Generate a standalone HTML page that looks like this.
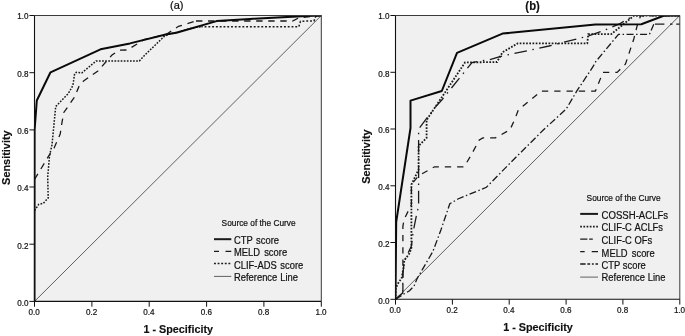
<!DOCTYPE html>
<html><head><meta charset="utf-8"><title>ROC curves</title>
<style>html,body{margin:0;padding:0;background:#fff}svg{display:block;will-change:transform}text{font-family:"Liberation Sans",Arial,sans-serif;fill:#111}.r{stroke:#111;stroke-width:.22px}.b{stroke:#111;stroke-width:.15px}</style></head><body>
<svg width="685" height="336" viewBox="0 0 685 336">
<rect width="685" height="336" fill="#fff"/>
<clipPath id="ca"><rect x="33.60" y="15.1" width="288.20" height="287.5"/></clipPath>
<rect x="34.5" y="15.5" width="286.8" height="285.9" fill="#f0f0f0"/>
<line x1="34.5" y1="301.4" x2="321.3" y2="15.5" stroke="#606060" stroke-width="1"/>
<g clip-path="url(#ca)">
<path d="M34.5,210.5 L38.8,204.3 L43.2,203.4 L48.2,198.0 L47.7,177.0 L49.5,155.7 L52.0,145.0 L55.7,106.5 L68.4,93.4 L72.9,85.4 L74.6,73.8 L76.4,72.3 L81.8,72.9 L96.0,61.1 L139.3,61.1 L145.4,54.5 L164.2,36.4 L168.0,34.5 L189.6,28.8 L196.0,27.3 L201.4,26.8" fill="none" stroke="#1a1a1a" stroke-width="1.5" stroke-dasharray="1.7 1.4"/>
<path d="M201.4,26.8 L298.8,26.8 L300.5,21.2 L314.0,21.0 L316.0,15.7 L321.3,15.5" fill="none" stroke="#1a1a1a" stroke-width="1.5" stroke-dasharray="1.9 1.88" stroke-dashoffset="0.6"/>
<path d="M34.5,179.5 L52.1,150.4 L54.0,148.2 L60.2,134.0 L62.0,122.3 L63.8,112.5 L74.6,97.0 L79.1,86.2 L83.6,80.9 L97.9,71.0 L112.0,55.0 L119.3,50.2 L127.3,50.0 L144.0,39.7 L166.5,34.2 L178.5,26.3 L196.0,21.0" fill="none" stroke="#1a1a1a" stroke-width="1.3" stroke-dasharray="6.5 5.8"/>
<path d="M196.0,21.0 L292.5,21.0 L298.8,17.9 L321.3,15.5" fill="none" stroke="#1a1a1a" stroke-width="1.3" stroke-dasharray="6.4 5.64"/>
<path d="M34.5,301.4 L34.6,130.0 L36.8,100.5 L50.5,72.3 L100.5,49.3 L130.0,43.4 L165.7,34.5 L176.4,32.7 L216.6,21.1 L250.0,18.9 L306.8,15.9 L321.3,15.5" fill="none" stroke="#0a0a0a" stroke-width="2" stroke-linejoin="round"/>
</g>
<path d="M34.5,15.5 H321.3 V301.4" fill="none" stroke="#3a3a3a" stroke-width="1"/>
<path d="M34.5,15.5 V301.4 H321.3" fill="none" stroke="#111" stroke-width="1.1"/>
<line x1="29.4" y1="301.4" x2="34.5" y2="301.4" stroke="#111" stroke-width="1"/>
<line x1="34.5" y1="301.4" x2="34.5" y2="306.7" stroke="#111" stroke-width="1"/>
<text transform="translate(28.60,305.70) scale(0.88,1)" font-size="9.2" text-anchor="end" class="r">0.0</text>
<text transform="translate(34.20,314.90) scale(0.88,1)" font-size="9.2" text-anchor="middle" class="r">0.0</text>
<line x1="29.4" y1="244.2" x2="34.5" y2="244.2" stroke="#111" stroke-width="1"/>
<line x1="91.9" y1="301.4" x2="91.9" y2="306.7" stroke="#111" stroke-width="1"/>
<text transform="translate(28.60,248.52) scale(0.88,1)" font-size="9.2" text-anchor="end" class="r">0.2</text>
<text transform="translate(91.56,314.90) scale(0.88,1)" font-size="9.2" text-anchor="middle" class="r">0.2</text>
<line x1="29.4" y1="187.0" x2="34.5" y2="187.0" stroke="#111" stroke-width="1"/>
<line x1="149.2" y1="301.4" x2="149.2" y2="306.7" stroke="#111" stroke-width="1"/>
<text transform="translate(28.60,191.34) scale(0.88,1)" font-size="9.2" text-anchor="end" class="r">0.4</text>
<text transform="translate(148.92,314.90) scale(0.88,1)" font-size="9.2" text-anchor="middle" class="r">0.4</text>
<line x1="29.4" y1="129.9" x2="34.5" y2="129.9" stroke="#111" stroke-width="1"/>
<line x1="206.6" y1="301.4" x2="206.6" y2="306.7" stroke="#111" stroke-width="1"/>
<text transform="translate(28.60,134.16) scale(0.88,1)" font-size="9.2" text-anchor="end" class="r">0.6</text>
<text transform="translate(206.28,314.90) scale(0.88,1)" font-size="9.2" text-anchor="middle" class="r">0.6</text>
<line x1="29.4" y1="72.7" x2="34.5" y2="72.7" stroke="#111" stroke-width="1"/>
<line x1="263.9" y1="301.4" x2="263.9" y2="306.7" stroke="#111" stroke-width="1"/>
<text transform="translate(28.60,76.98) scale(0.88,1)" font-size="9.2" text-anchor="end" class="r">0.8</text>
<text transform="translate(263.64,314.90) scale(0.88,1)" font-size="9.2" text-anchor="middle" class="r">0.8</text>
<line x1="29.4" y1="15.5" x2="34.5" y2="15.5" stroke="#111" stroke-width="1"/>
<line x1="321.3" y1="301.4" x2="321.3" y2="306.7" stroke="#111" stroke-width="1"/>
<text transform="translate(28.60,18.90) scale(0.88,1)" font-size="9.2" text-anchor="end" class="r">1.0</text>
<text transform="translate(321.00,314.90) scale(0.88,1)" font-size="9.2" text-anchor="middle" class="r">1.0</text>
<text transform="translate(178.20,332.80)" font-size="10.8" text-anchor="middle" font-weight="bold" class="b">1 - Specificity</text>
<text transform="translate(9.50,157.65) rotate(-90)" font-size="10.9" text-anchor="middle" font-weight="bold" class="b">Sensitivity</text>
<text transform="translate(176.70,8.80)" font-size="11" text-anchor="middle" class="r">(a)</text>
<text transform="translate(258.60,226.10) scale(0.905,1)" font-size="9.2" text-anchor="middle" class="r">Source of the Curve</text>
<line x1="214" y1="239.2" x2="231.3" y2="239.2" stroke="#1a1a1a" stroke-width="2"/>
<text transform="translate(234.00,244.20) scale(0.885,1)" font-size="10.6" class="r">CTP <tspan x="24.97">score</tspan></text>
<line x1="214" y1="251.3" x2="231.3" y2="251.3" stroke="#1a1a1a" stroke-width="1.3" stroke-dasharray="5 6.5 6 0"/>
<text transform="translate(234.00,256.30) scale(0.885,1)" font-size="10.6" class="r">MELD <tspan x="34.12">score</tspan></text>
<line x1="214" y1="263.6" x2="231.3" y2="263.6" stroke="#1a1a1a" stroke-width="1.5" stroke-dasharray="1.9 1.7"/>
<text transform="translate(234.00,268.60) scale(0.885,1)" font-size="10.6" class="r">CLIF-ADS <tspan x="52.32">score</tspan></text>
<line x1="214" y1="276.4" x2="231.3" y2="276.4" stroke="#606060" stroke-width="1"/>
<text transform="translate(234.00,281.20) scale(0.885,1)" font-size="10.6" class="r">Reference <tspan x="52.20">Line</tspan></text>
<clipPath id="cb"><rect x="394.95" y="15.1" width="285.35" height="285.4"/></clipPath>
<rect x="395.5" y="15.5" width="284.3" height="283.8" fill="#f0f0f0"/>
<line x1="395.5" y1="299.3" x2="679.8" y2="15.5" stroke="#606060" stroke-width="1"/>
<g clip-path="url(#cb)">
<path d="M395.5,299.3 L398.4,297.4 L409.5,290.7 L414.0,286.2 L417.0,278.8 L432.9,251.4 L440.9,230.0 L449.8,203.8 L457.9,199.0 L486.4,187.3 L510.0,163.2 L543.3,130.0 L566.2,109.0 L576.7,91.2 L593.3,66.2 L595.7,61.7 L618.5,34.3 L649.5,34.3 L653.8,24.2" fill="none" stroke="#1a1a1a" stroke-width="1.3" stroke-dasharray="7 2.5 1.5 2.5"/>
<path d="M655.0,24.2 L679.8,24.2" fill="none" stroke="#1a1a1a" stroke-width="1.3" stroke-dasharray="9.4 5.6 2.5 3.75 3.75 9"/>
<path d="M395.5,299.3 L402.9,293.0 L402.9,226.0 L404.3,219.0 L411.4,204.6 L411.4,184.6 L418.6,175.7 L434.6,166.8 L464.1,166.8 L471.2,155.0 L479.3,140.0 L482.9,137.9 L495.4,137.9 L510.0,129.8 L515.2,118.3 L518.3,110.0 L541.2,91.2 L595.4,91.2 L602.9,72.4 L617.1,72.4 L625.5,64.0 L633.8,39.0 L637.4,24.8 L640.6,15.8 L679.8,15.5" fill="none" stroke="#1a1a1a" stroke-width="1.3" stroke-dasharray="6.3 6"/>
<path d="M395.5,299.3 L402.8,293.0 L402.8,274.3 L404.3,261.0 L411.4,246.0 L413.2,231.4 L416.8,213.6 L418.6,206.4 L418.6,129.0 L434.6,108.0 L441.8,100.0 L472.0,62.5 L490.0,59.5 L499.0,56.8 L549.0,46.0 L587.3,36.2 L602.5,31.1 L618.8,24.2 L633.8,15.8" fill="none" stroke="#1a1a1a" stroke-width="1.3" stroke-dasharray="12.7 5.6 1.5 5.6"/>
<path d="M395.5,299.3 L395.7,289.0 L397.6,284.0 L401.6,278.2 L403.4,268.4 L404.3,260.4 L409.6,253.2 L411.4,247.9 L411.4,184.6 L418.6,169.5 L418.6,145.9 L426.6,137.9 L426.6,120.0 L465.0,62.5 L497.0,62.0 L502.5,52.3 L517.7,43.4 L587.3,43.4 L588.2,34.2 L611.2,34.2 L633.8,15.8 L679.8,15.5" fill="none" stroke="#1a1a1a" stroke-width="1.8" stroke-dasharray="1.7 1.5"/>
<path d="M395.5,299.3 L396.2,222.0 L410.5,128.0 L410.5,100.6 L441.8,91.0 L457.0,52.8 L502.5,33.6 L595.4,24.6 L641.3,24.3 L663.7,15.7 L679.8,15.5" fill="none" stroke="#0a0a0a" stroke-width="2" stroke-linejoin="round"/>
</g>
<path d="M395.5,15.5 H679.8 V299.3" fill="none" stroke="#3a3a3a" stroke-width="1"/>
<path d="M395.5,15.5 V299.3 H679.8" fill="none" stroke="#111" stroke-width="1.1"/>
<line x1="390.4" y1="299.3" x2="395.5" y2="299.3" stroke="#111" stroke-width="1"/>
<line x1="395.5" y1="299.3" x2="395.5" y2="304.6" stroke="#111" stroke-width="1"/>
<text transform="translate(389.60,303.60) scale(0.88,1)" font-size="9.2" text-anchor="end" class="r">0.0</text>
<text transform="translate(395.20,312.60) scale(0.88,1)" font-size="9.2" text-anchor="middle" class="r">0.0</text>
<line x1="390.4" y1="242.5" x2="395.5" y2="242.5" stroke="#111" stroke-width="1"/>
<line x1="452.4" y1="299.3" x2="452.4" y2="304.6" stroke="#111" stroke-width="1"/>
<text transform="translate(389.60,246.84) scale(0.88,1)" font-size="9.2" text-anchor="end" class="r">0.2</text>
<text transform="translate(452.06,312.60) scale(0.88,1)" font-size="9.2" text-anchor="middle" class="r">0.2</text>
<line x1="390.4" y1="185.8" x2="395.5" y2="185.8" stroke="#111" stroke-width="1"/>
<line x1="509.2" y1="299.3" x2="509.2" y2="304.6" stroke="#111" stroke-width="1"/>
<text transform="translate(389.60,190.08) scale(0.88,1)" font-size="9.2" text-anchor="end" class="r">0.4</text>
<text transform="translate(508.92,312.60) scale(0.88,1)" font-size="9.2" text-anchor="middle" class="r">0.4</text>
<line x1="390.4" y1="129.0" x2="395.5" y2="129.0" stroke="#111" stroke-width="1"/>
<line x1="566.1" y1="299.3" x2="566.1" y2="304.6" stroke="#111" stroke-width="1"/>
<text transform="translate(389.60,133.32) scale(0.88,1)" font-size="9.2" text-anchor="end" class="r">0.6</text>
<text transform="translate(565.78,312.60) scale(0.88,1)" font-size="9.2" text-anchor="middle" class="r">0.6</text>
<line x1="390.4" y1="72.3" x2="395.5" y2="72.3" stroke="#111" stroke-width="1"/>
<line x1="622.9" y1="299.3" x2="622.9" y2="304.6" stroke="#111" stroke-width="1"/>
<text transform="translate(389.60,76.56) scale(0.88,1)" font-size="9.2" text-anchor="end" class="r">0.8</text>
<text transform="translate(622.64,312.60) scale(0.88,1)" font-size="9.2" text-anchor="middle" class="r">0.8</text>
<line x1="390.4" y1="15.5" x2="395.5" y2="15.5" stroke="#111" stroke-width="1"/>
<line x1="679.8" y1="299.3" x2="679.8" y2="304.6" stroke="#111" stroke-width="1"/>
<text transform="translate(389.60,18.90) scale(0.88,1)" font-size="9.2" text-anchor="end" class="r">1.0</text>
<text transform="translate(679.50,312.60) scale(0.88,1)" font-size="9.2" text-anchor="middle" class="r">1.0</text>
<text transform="translate(537.95,330.90)" font-size="10.8" text-anchor="middle" font-weight="bold" class="b">1 - Specificity</text>
<text transform="translate(369.80,156.60) rotate(-90)" font-size="10.9" text-anchor="middle" font-weight="bold" class="b">Sensitivity</text>
<text transform="translate(532.60,10.40) scale(0.93,1)" font-size="12.2" text-anchor="middle" font-weight="bold" class="b">(b)</text>
<text transform="translate(623.60,201.10) scale(0.905,1)" font-size="9.2" text-anchor="middle" class="r">Source of the Curve</text>
<line x1="580.2" y1="213.9" x2="598" y2="213.9" stroke="#1a1a1a" stroke-width="2"/>
<text transform="translate(601.60,218.90) scale(0.905,1)" font-size="10.6" class="r">COSSH-ACLFs</text>
<line x1="580.2" y1="226.6" x2="598" y2="226.6" stroke="#1a1a1a" stroke-width="1.8" stroke-dasharray="1.7 1.5"/>
<text transform="translate(601.60,230.90) scale(0.885,1)" font-size="10.6" class="r">CLIF-C <tspan x="37.06">ACLFs</tspan></text>
<line x1="580.2" y1="239.1" x2="598" y2="239.1" stroke="#1a1a1a" stroke-width="1.3" stroke-dasharray="7.2 1.8 3.6 20"/>
<text transform="translate(601.60,243.50) scale(0.885,1)" font-size="10.6" class="r">CLIF-C <tspan x="37.06">OFs</tspan></text>
<line x1="580.2" y1="251.7" x2="598" y2="251.7" stroke="#1a1a1a" stroke-width="1.3" stroke-dasharray="4.5 7 6.3 0"/>
<text transform="translate(601.60,256.50) scale(0.885,1)" font-size="10.6" class="r">MELD <tspan x="34.12">score</tspan></text>
<line x1="580.2" y1="264" x2="598" y2="264" stroke="#1a1a1a" stroke-width="1.3" stroke-dasharray="5.4 1.8 2.7 1.8 1.8 1.8 2.7 0"/>
<text transform="translate(601.60,269.00) scale(0.885,1)" font-size="10.6" class="r">CTP <tspan x="23.95">score</tspan></text>
<line x1="580.2" y1="277.1" x2="598" y2="277.1" stroke="#606060" stroke-width="1"/>
<text transform="translate(601.60,281.10) scale(0.885,1)" font-size="10.6" class="r">Reference <tspan x="52.20">Line</tspan></text>
</svg></body></html>
